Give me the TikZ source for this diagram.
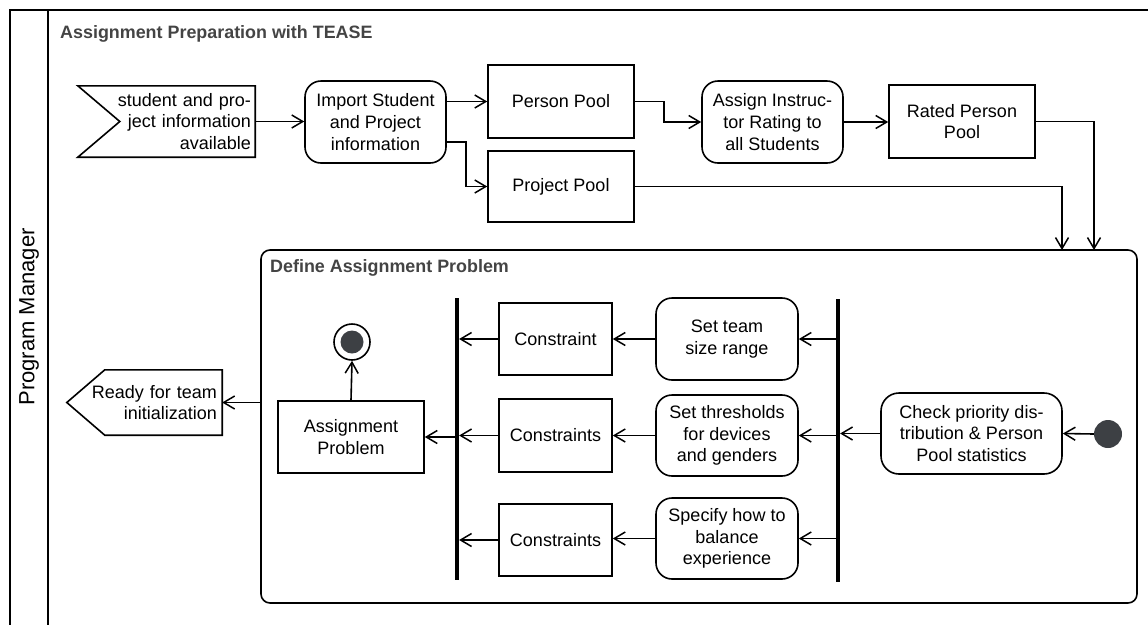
\documentclass[tikz,border=0pt]{standalone}
\usepackage{fontspec}
\setmainfont{Liberation Sans}
\usetikzlibrary{arrows.meta,positioning}

\definecolor{titlegrey}{HTML}{444444}
\definecolor{dotfill}{HTML}{3D4044}

\tikzset{
  every node/.style={font=\fontsize{18}{21.6}\selectfont},
  lw/.style={line width=1.6pt},
  actionbox/.style={draw, lw, rounded corners=16pt, align=center, inner sep=0pt},
  objbox/.style={draw, lw, rectangle, align=center, inner sep=0pt},
  flagtext/.style={align=right, inner ysep=0pt},
  bar/.style={rectangle, fill=black, inner sep=0pt, minimum width=3.8pt},
  arr/.style={lw, -{Straight Barb[length=11pt,width=13pt,line width=1.5pt]}},
  grouptitle/.style={font=\fontsize{17.9}{21}\selectfont\bfseries, text=titlegrey, anchor=west, inner sep=0pt},
  dot/.style={circle, fill=dotfill, inner sep=0pt},
}

\begin{document}
\begin{tikzpicture}[x=1pt,y=-1pt]
\useasboundingbox (0,0) rectangle (1148,625);

% swimlane
\draw[lw] (1148,10) -- (10,10) -- (10,625);
\draw[lw] (48,10) -- (48,625);
\node[rotate=90, font=\fontsize{22}{26}\selectfont] (lane) at (29,317) {Program Manager};

\node[grouptitle] (prep) at (60,34) {Assignment Preparation with TEASE};

% start signal (accept event)
\node[flagtext, text width=169pt, inner xsep=4pt, minimum height=71pt] (start) at (166.5,121.5)
  {student and pro-\\ject information\\available};
\draw[lw] (start.north west) -- (start.north east) -- (start.south east) -- (start.south west)
  -- ([xshift=42pt]start.west) -- cycle;

% upper row
\node[actionbox, minimum width=141pt, minimum height=82pt] (import) at (375.5,122)
  {Import Student\\and Project\\information};
\node[objbox, minimum width=146pt, minimum height=73pt] (person) at (561,101.5) {Person Pool};
\node[objbox, minimum width=146pt, minimum height=71pt] (project) at (561,186.5) {Project Pool};
\node[actionbox, minimum width=141pt, minimum height=82pt] (assign) at (772.5,122)
  {Assign Instruc-\\tor Rating to\\all Students};
\node[objbox, minimum width=146pt, minimum height=73pt] (rated) at (962,121.5) {Rated Person\\Pool};

% define assignment problem region
\node[draw, lw, rounded corners=9pt, minimum width=876pt, minimum height=353pt, inner sep=0pt] (def) at (699,426.5) {};
\node[grouptitle] (deftitle) at (270,268) {Define Assignment Problem};
\coordinate (in1) at (1062,250);
\coordinate (in2) at (1094,250);

% region contents
\node[dot, minimum size=28pt] (init) at (1108,434) {};
\node[actionbox, rounded corners=18pt, minimum width=181pt, minimum height=81pt] (check) at (971.5,433.5)
  {Check priority dis-\\tribution \& Person\\Pool statistics};
\node[bar, minimum height=283pt] (fork) at (838,440.5) {};
\node[bar, minimum height=282pt] (join) at (457,439) {};

\node[actionbox, minimum width=142pt, minimum height=82pt] (size) at (727,339) {Set team\\size range};
\node[actionbox, minimum width=142pt, minimum height=81pt] (thresh) at (727,435.5) {Set thresholds\\for devices\\and genders};
\node[actionbox, minimum width=142pt, minimum height=81pt] (balance) at (727,538.5) {Specify how to\\balance\\experience};

\node[objbox, minimum width=113pt, minimum height=72pt] (c1) at (555.5,339) {Constraint};
\node[objbox, minimum width=113pt, minimum height=73pt] (c2) at (555.5,435.5) {Constraints};
\node[objbox, minimum width=113pt, minimum height=72pt] (c3) at (555.5,540) {Constraints};

\node[objbox, minimum width=146pt, minimum height=72pt] (ap) at (351,437) {Assignment\\Problem};
\node[circle, draw, lw, minimum size=36pt, inner sep=0pt] (final) at (352,342) {};
\node[dot, minimum size=23pt] (finaldot) at (final.center) {};

% end signal (send event)
\node[flagtext, text width=145pt, inner xsep=5pt, minimum height=65pt] (ready) at (144.5,402.5)
  {Ready for team\\initialization};
\draw[lw] (ready.north east) -- (ready.south east) -- ([xshift=38pt]ready.south west)
  -- (ready.west) -- ([xshift=38pt]ready.north west) -- cycle;

% upper flows
\draw[arr] (start.east) -- (start.east -| import.west);
\draw[arr] (import.east |- person.west) -- (person.west);
\draw[arr] ([yshift=-20pt]import.east) -- ++(19,0) |- (project.west);
\draw[arr] (person.east) -- ++(29,0) |- (assign.west);
\draw[arr] (assign.east) -- (assign.east -| rated.west);
\draw[arr] (project.east) -| (in1);
\draw[arr] (rated.east) -| (in2);

% region flows
\draw[arr] (init.west) -- (check.east);
\draw[arr] (check.west) -- (check.west -| fork.east);
\draw[arr] (fork.center |- size.east) -- (size.east);
\draw[arr] (fork.center |- thresh.east) -- (thresh.east);
\draw[arr] (fork.center |- balance.east) -- (balance.east);
\draw[arr] (size.west) -- (size.west -| c1.east);
\draw[arr] (thresh.west) -- (thresh.west -| c2.east);
\draw[arr] (balance.west) -- (balance.west -| c3.east);
\draw[arr] (c1.west) -- (c1.west -| join.east);
\draw[arr] (c2.west) -- (c2.west -| join.east);
\draw[arr] (c3.west) -- (c3.west -| join.east);
\draw[arr] (join.center |- ap.east) -- (ap.east);
\draw[arr] (ap.north) -- (final.south);
\draw[arr] (def.west |- ready.east) -- (ready.east);
\end{tikzpicture}
\end{document}
